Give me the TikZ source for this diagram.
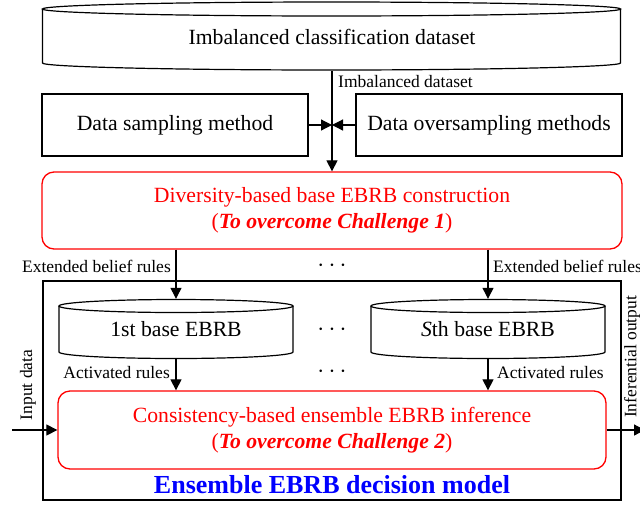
\documentclass[tikz,border=0pt]{standalone}
\usepackage{fontspec}
\setmainfont{Liberation Serif}
\usetikzlibrary{arrows.meta}

% Drum outline: #1 centre x, #2 half width, #3 y of upper rim, #4 y of lower rim, #5 rim depth
\newcommand\drumoutline[5]{%
  \draw[outline] ({#1},{#3}) ellipse[x radius={#2}, y radius={#5}];
  \draw[outline] ({#1-#2},{#3}) -- ({#1-#2},{#4})
    .. controls ({#1-#2},{#4+0.5523*#5}) and ({#1-0.5523*#2},{#4+#5}) .. ({#1},{#4+#5})
    .. controls ({#1+0.5523*#2},{#4+#5}) and ({#1+#2},{#4+0.5523*#5}) .. ({#1+#2},{#4})
    -- ({#1+#2},{#3});
}

\begin{document}
\begin{tikzpicture}[x=1pt,y=-1pt,
  outline/.style={draw=black, line width=1.2pt},
  big/.style={font=\fontsize{21.7}{26.5}\selectfont},
  small/.style={font=\fontsize{17.5}{20}\selectfont},
  label/.style={small, inner sep=2pt},
  ellipsis/.style={font=\fontsize{24}{26}\selectfont, inner sep=0pt},
  plainbox/.style={big, outline, inner sep=0pt},
  redbox/.style={big, draw=red, text=red, line width=1.3pt, rounded corners=12pt,
                 align=center, inner sep=0pt},
  flow/.style={line width=1.2pt, -{Triangle[length=11pt,width=11pt]}},
]
\useasboundingbox (0,0) rectangle (640,504);

% dataset drum
\drumoutline{331.5}{289}{9}{63}{7}
\node[big, inner sep=0pt, minimum width=579pt, minimum height=68pt] (data) at (332,37)
  {Imbalanced classification dataset};

% sampling boxes
\node[plainbox, minimum width=266pt, minimum height=62pt] (samp) at (175,125) {Data sampling method};
\node[plainbox, minimum width=266pt, minimum height=62pt] (over) at (489,125) {Data oversampling methods};

% diversity stage
\node[redbox, minimum width=580pt, minimum height=77pt] (div) at (332,210.5)
  {Diversity-based base EBRB construction\\(\textbf{\textit{To overcome Challenge 1}})};

\draw[flow] (data.south) -- (data.south |- div.north);
\node[label, anchor=west] (imb) at (336,82) {Imbalanced dataset};
\draw[flow] (samp.east) -- (samp.east -| data.south);
\draw[flow] (over.west) -- (over.west -| data.south);

% ensemble model frame
\node[outline, inner sep=0pt, minimum width=578pt, minimum height=219pt] (model) at (332,390.5) {};

% base EBRBs
\drumoutline{176}{117}{306}{352}{6.5}
\drumoutline{488}{117}{306}{352}{6.5}
\node[big, inner sep=0pt, minimum width=234pt, minimum height=60pt] (b1) at (176,329) {1st base EBRB};
\node[big, inner sep=0pt, minimum width=234pt, minimum height=60pt] (bs) at (488,329) {\textit{S}th base EBRB};

\draw[flow] (b1.north |- div.south) -- (b1.north);
\draw[flow] (bs.north |- div.south) -- (bs.north);
\node[label, anchor=east] (ext1) at (173,266) {Extended belief rules};
\node[label, anchor=west] (ext2) at (491,266) {Extended belief rules};
\node[ellipsis] (dots1) at (332,266) {$\cdots$};
\node[ellipsis] (dots2) at (332,330) {$\cdots$};
\node[ellipsis] (dots3) at (332,372) {$\cdots$};

% consistency stage
\node[redbox, minimum width=548pt, minimum height=78pt] (cons) at (332,430)
  {Consistency-based ensemble EBRB inference\\(\textbf{\textit{To overcome Challenge 2}})};

\draw[flow] (b1.south) -- (b1.south |- cons.north);
\draw[flow] (bs.south) -- (bs.south |- cons.north);
\node[label, anchor=east] (act1) at (172,373) {Activated rules};
\node[label, anchor=west] (act2) at (495,373) {Activated rules};

\node[font=\fontsize{26}{30}\selectfont\bfseries, text=blue, inner sep=0pt] (title) at (332,485)
  {Ensemble EBRB decision model};

% input and output
\coordinate (inp) at (12,430);
\coordinate (outp) at (645,430);
\draw[flow] (inp) -- (cons.west);
\draw[flow] (cons.east) -- (outp);
\node[label, rotate=90] (intxt) at (28,385) {Input data};
\node[label, rotate=90] (outtxt) at (632,357) {Inferential output};
\end{tikzpicture}
\end{document}
